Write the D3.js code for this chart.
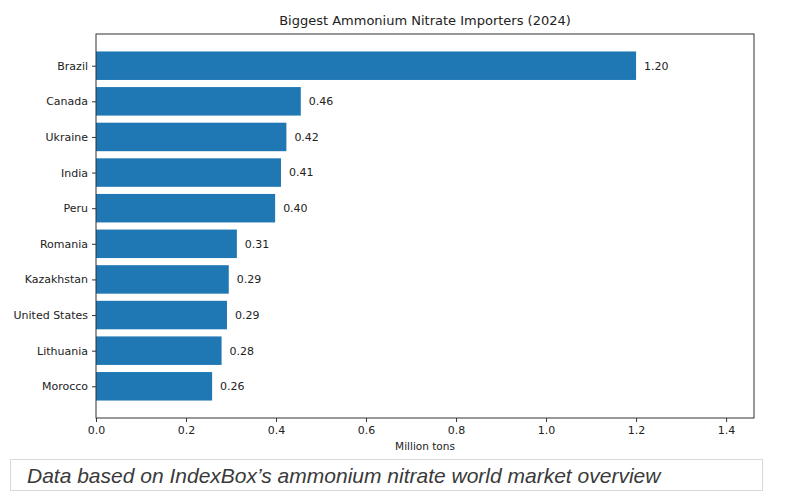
<!DOCTYPE html>
<html>
<head>
<meta charset="utf-8">
<script src="https://cdn.jsdelivr.net/npm/d3@7"></script>
<style>
  body { margin: 0; background: #fff; }
  svg text { font-family: "DejaVu Sans", sans-serif; fill: #222; }
</style>
</head>
<body>
<div id="chart"></div>
<script>
// Data
var countries = ["Brazil", "Canada", "Ukraine", "India", "Peru", "Romania",
                 "Kazakhstan", "United States", "Lithuania", "Morocco"];
var imports = [1.20, 0.455, 0.423, 0.411, 0.398, 0.313, 0.295, 0.291, 0.279, 0.258];
var xTicks = [0.0, 0.2, 0.4, 0.6, 0.8, 1.0, 1.2, 1.4];

var W = 789, H = 504,
    margin = {top: 34, right: 35, bottom: 86, left: 96},
    width = W - margin.left - margin.right,
    height = H - margin.top - margin.bottom;

var svg = d3.select("#chart").append("svg")
    .attr("width", W).attr("height", H);

var g = svg.append("g")
    .attr("transform", "translate(" + margin.left + "," + margin.top + ")");

// Scales (matplotlib-like barh with 5% margins)
var x = d3.scaleLinear().domain([0, 1.462]).range([0, width]);
var n = countries.length;
var y = d3.scaleLinear().domain([-0.89, n - 1 + 0.89]).range([0, height]);
var barH = 0.8 * (y(1) - y(0));

// Bars
g.selectAll("rect.bar")
    .data(countries)
    .enter().append("rect")
    .attr("class", "bar")
    .attr("x", 0)
    .attr("y", (d, i) => y(i) - barH / 2)
    .attr("width", (d, i) => x(imports[i]))
    .attr("height", barH)
    .style("fill", "#1f77b4");

// Value labels
g.selectAll("text.val")
    .data(countries)
    .enter().append("text")
    .attr("class", "val")
    .attr("x", (d, i) => x(imports[i]) + 8)
    .attr("y", (d, i) => y(i))
    .attr("dy", "0.35em")
    .style("font-size", "11px")
    .text((d, i) => imports[i].toFixed(2));

// Frame
g.append("rect")
    .attr("width", width).attr("height", height)
    .style("fill", "none").style("stroke", "#333").style("stroke-width", 1);

// X axis
var xAxis = g.append("g")
    .attr("transform", "translate(0," + height + ")")
    .call(d3.axisBottom(x).tickValues(xTicks).tickFormat(d3.format(".1f")).tickSize(4).tickPadding(4));
xAxis.select(".domain").remove();
xAxis.selectAll("text").style("font-size", "11px");
xAxis.selectAll("line").style("stroke", "#333");

// Y axis
var yAxis = g.append("g")
    .call(d3.axisLeft(y).tickValues(d3.range(n)).tickFormat(i => countries[i]).tickSize(4).tickPadding(4));
yAxis.select(".domain").remove();
yAxis.selectAll("text").style("font-size", "11px");
yAxis.selectAll("line").style("stroke", "#333");

// Title and axis label
svg.append("text")
    .attr("x", margin.left + width / 2)
    .attr("y", 25)
    .attr("text-anchor", "middle")
    .style("font-size", "13px")
    .text("Biggest Ammonium Nitrate Importers (2024)");

svg.append("text")
    .attr("x", margin.left + width / 2)
    .attr("y", margin.top + height + 32)
    .attr("text-anchor", "middle")
    .style("font-size", "10.5px")
    .text("Million tons");

// Caption box
svg.append("rect")
    .attr("x", 10.5).attr("y", 459.5)
    .attr("width", 752).attr("height", 31)
    .style("fill", "#fff").style("stroke", "#d8d8d8");

svg.append("text")
    .attr("x", 27)
    .attr("y", 483)
    .style("font-family", "'Liberation Sans', Arial, sans-serif")
    .style("font-style", "italic")
    .style("font-size", "21px")
    .style("fill", "#3a3a3a")
    .text("Data based on IndexBox\u2019s ammonium nitrate world market overview");
</script>
</body>
</html>
